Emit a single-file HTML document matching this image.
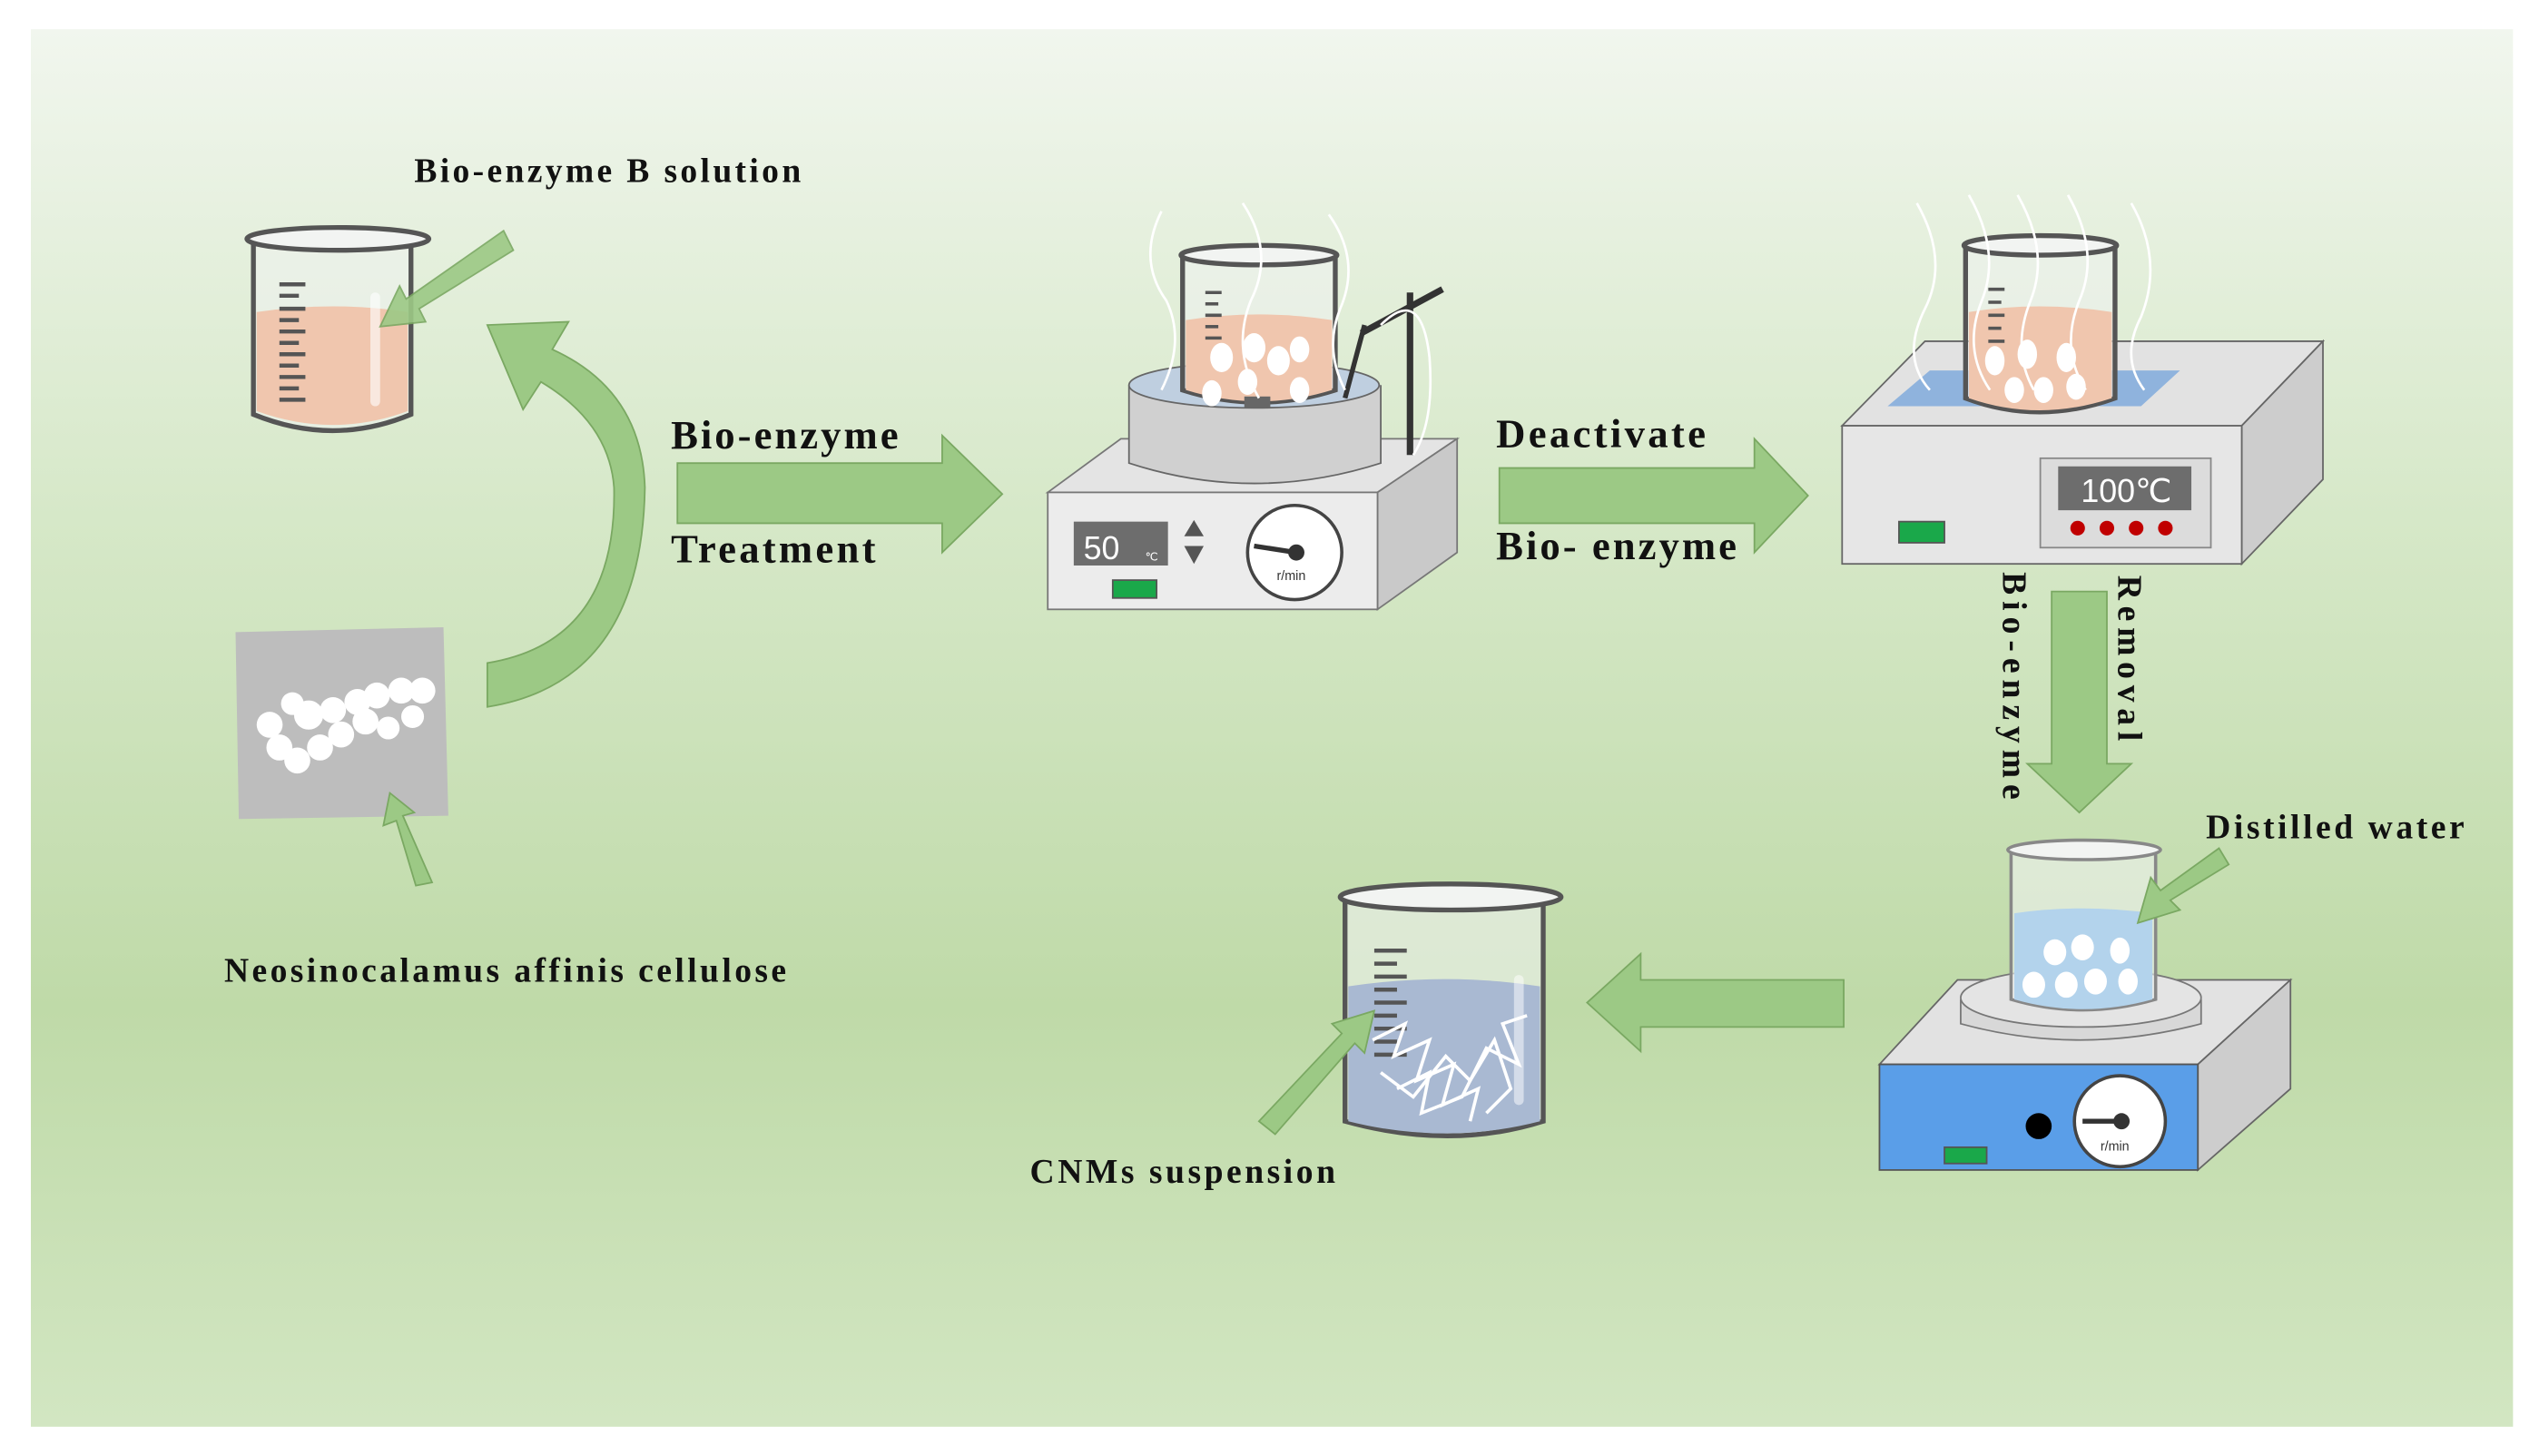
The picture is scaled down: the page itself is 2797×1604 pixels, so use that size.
<!DOCTYPE html>
<html><head><meta charset="utf-8"><style>
html,body{margin:0;padding:0;background:#fff;}
svg{display:block;}
text{font-family:"Liberation Serif",serif;font-weight:bold;fill:#111;}
</style></head><body>
<svg width="2797" height="1604" viewBox="0 0 1563 896" preserveAspectRatio="none" xmlns="http://www.w3.org/2000/svg">
<defs>
<linearGradient id="bg" x1="0" y1="0" x2="0" y2="1">
<stop offset="0" stop-color="#f1f6ee"/>
<stop offset="0.35" stop-color="#d6e8c8"/>
<stop offset="0.7" stop-color="#bfdaa8"/>
<stop offset="1" stop-color="#d2e6c2"/>
</linearGradient>
</defs>
<rect x="19" y="18" width="1528" height="860" fill="url(#bg)"/>

<!-- Beaker 1 -->
<g>
<path d="M156 148 L156 255 Q205 275 253 255 L253 148" fill="#eef1ee" fill-opacity="0.6" stroke="#555" stroke-width="3"/>
<path d="M158 192 Q205 185 251 192 L251 253 Q205 270 158 253Z" fill="#f0c6ae"/>
<ellipse cx="208" cy="147" rx="56" ry="7" fill="#f2f4f2" stroke="#555" stroke-width="3"/>
<g stroke="#555" stroke-width="2.5">
<line x1="172" y1="175" x2="188" y2="175"/><line x1="172" y1="182" x2="184" y2="182"/><line x1="172" y1="190" x2="188" y2="190"/><line x1="172" y1="197" x2="184" y2="197"/><line x1="172" y1="204" x2="188" y2="204"/><line x1="172" y1="211" x2="184" y2="211"/><line x1="172" y1="218" x2="188" y2="218"/><line x1="172" y1="225" x2="184" y2="225"/><line x1="172" y1="232" x2="188" y2="232"/><line x1="172" y1="239" x2="184" y2="239"/><line x1="172" y1="246" x2="188" y2="246"/>
</g>
<rect x="228" y="180" width="6" height="70" rx="3" fill="#fff" opacity="0.6"/>
</g>
<polygon points="310,142 316,154 258,190 262,198 234,201 246,176 250,184" fill="#9cc985" stroke="#7aa862" stroke-width="1" opacity="0.9"/>
<text x="255" y="112" font-size="21" textLength="238" lengthAdjust="spacing">Bio-enzyme B solution</text>

<!-- curved arrow -->
<path d="M300 435 Q395 420 397 300 Q395 240 340 215 L350 198 L300 200 L322 252 L333 235 Q375 260 378 300 Q380 395 300 408 Z" fill="#9cc985" stroke="#7aa862" stroke-width="1"/>

<!-- gray square -->
<polygon points="145,389 273,386 276,502 147,504" fill="#bdbdbd"/>
<g fill="#fff">
<circle cx="166" cy="446" r="8"/><circle cx="180" cy="433" r="7"/><circle cx="190" cy="440" r="9"/><circle cx="205" cy="437" r="8"/><circle cx="220" cy="432" r="8"/><circle cx="232" cy="428" r="8"/><circle cx="247" cy="425" r="8"/><circle cx="260" cy="425" r="8"/><circle cx="172" cy="460" r="8"/><circle cx="183" cy="468" r="8"/><circle cx="197" cy="460" r="8"/><circle cx="210" cy="452" r="8"/><circle cx="225" cy="444" r="8"/><circle cx="239" cy="448" r="7"/><circle cx="254" cy="441" r="7"/>
</g>
<polygon points="266,543 256,545 244,505 236,508 240,488 255,500 248,502" fill="#9cc985" stroke="#7aa862" stroke-width="1"/>
<text x="138" y="604" font-size="21" textLength="346" lengthAdjust="spacing">Neosinocalamus affinis cellulose</text>

<!-- arrow 1 -->
<polygon points="417,285 580,285 580,268 617,304 580,340 580,322 417,322" fill="#9cc985" stroke="#7aa862" stroke-width="1"/>
<text x="413" y="276" font-size="25" textLength="140" lengthAdjust="spacing">Bio-enzyme</text>
<text x="413" y="346" font-size="25" textLength="126" lengthAdjust="spacing">Treatment</text>

<!-- stirrer device 1 -->
<polygon points="645,303 690,270 897,270 848,303" fill="#e4e4e4" stroke="#777"/>
<polygon points="848,303 897,270 897,340 848,375" fill="#c9c9c9" stroke="#777"/>
<rect x="645" y="303" width="203" height="72" fill="#ececec" stroke="#777"/>
<rect x="661" y="321" width="58" height="27" fill="#6d6d6d"/>
<text x="667" y="344" font-size="20" style="font-family:'Liberation Sans',sans-serif;fill:#fff;font-weight:normal">50</text>
<text x="705" y="345" font-size="7" style="font-family:'Liberation Sans',sans-serif;fill:#fff;font-weight:normal">℃</text>
<polygon points="735,320 741,330 729,330" fill="#555"/><polygon points="729,336 741,336 735,347" fill="#555"/>
<rect x="685" y="357" width="27" height="11" fill="#1aa84a" stroke="#555"/>
<circle cx="797" cy="340" r="29" fill="#fff" stroke="#444" stroke-width="2"/>
<line x1="772" y1="336" x2="798" y2="340" stroke="#333" stroke-width="3"/><circle cx="798" cy="340" r="5" fill="#333"/>
<text x="786" y="357" font-size="8" style="font-family:'Liberation Sans',sans-serif;font-weight:normal;fill:#333">r/min</text>
<path d="M695 237 L695 285 Q772 310 850 285 L850 237" fill="#d0d0d0" stroke="#666"/>
<ellipse cx="772" cy="237" rx="77" ry="14" fill="#bfcfe0" stroke="#666"/>
<line x1="868" y1="180" x2="868" y2="280" stroke="#333" stroke-width="4"/>
<line x1="838" y1="205" x2="888" y2="178" stroke="#333" stroke-width="4"/>
<line x1="840" y1="200" x2="828" y2="245" stroke="#333" stroke-width="3"/>
<path d="M728 158 L728 240 Q775 255 822 240 L822 158" fill="#eef1ee" fill-opacity="0.6" stroke="#555" stroke-width="3"/>
<path d="M730 197 Q775 190 820 197 L820 240 Q775 254 730 240Z" fill="#f0c6ae"/>
<ellipse cx="775" cy="157" rx="48" ry="6" fill="#f2f4f2" stroke="#555" stroke-width="3"/>
<g fill="#fff"><ellipse cx="752" cy="220" rx="7" ry="9"/><ellipse cx="772" cy="214" rx="7" ry="9"/><ellipse cx="787" cy="222" rx="7" ry="9"/><ellipse cx="800" cy="215" rx="6" ry="8"/><ellipse cx="746" cy="242" rx="6" ry="8"/><ellipse cx="768" cy="235" rx="6" ry="8"/><ellipse cx="800" cy="240" rx="6" ry="8"/></g>
<rect x="766" y="244" width="16" height="7" fill="#666"/>
<g stroke="#555" stroke-width="2"><line x1="742" y1="180" x2="752" y2="180"/><line x1="742" y1="187" x2="750" y2="187"/><line x1="742" y1="194" x2="752" y2="194"/><line x1="742" y1="201" x2="750" y2="201"/><line x1="742" y1="208" x2="752" y2="208"/></g>
<g fill="none" stroke="#fff" stroke-width="1.5">
<path d="M715 130 Q700 160 718 185 Q730 210 715 240"/><path d="M765 125 Q785 155 770 185 Q758 215 775 245"/><path d="M818 132 Q838 160 825 190 Q815 215 828 240"/>
<path d="M850 200 Q875 175 880 220 Q883 260 870 280"/>
</g>

<!-- arrow 2 -->
<polygon points="923,288 1080,288 1080,270 1113,305 1080,340 1080,322 923,322" fill="#9cc985" stroke="#7aa862" stroke-width="1"/>
<text x="921" y="275" font-size="25" textLength="129" lengthAdjust="spacing">Deactivate</text>
<text x="921" y="344" font-size="25" textLength="148" lengthAdjust="spacing">Bio- enzyme</text>

<!-- heater 2 -->
<polygon points="1134,262 1185,210 1430,210 1380,262" fill="#e2e2e2" stroke="#666"/>
<polygon points="1162,250 1188,228 1342,228 1318,250" fill="#8fb3dd"/>
<polygon points="1380,262 1430,210 1430,295 1380,347" fill="#cdcdcd" stroke="#666"/>
<rect x="1134" y="262" width="246" height="85" fill="#e6e6e6" stroke="#666"/>
<rect x="1256" y="282" width="105" height="55" fill="#dcdcdc" stroke="#888"/>
<rect x="1267" y="287" width="82" height="27" fill="#6d6d6d"/>
<text x="1281" y="309" font-size="20" style="font-family:'Liberation Sans',sans-serif;fill:#fff;font-weight:normal">100℃</text>
<g fill="#c00000"><circle cx="1279" cy="325" r="4.5"/><circle cx="1297" cy="325" r="4.5"/><circle cx="1315" cy="325" r="4.5"/><circle cx="1333" cy="325" r="4.5"/></g>
<rect x="1169" y="321" width="28" height="13" fill="#1aa84a" stroke="#555"/>
<path d="M1210 152 L1210 245 Q1255 262 1302 245 L1302 152" fill="#eef1ee" fill-opacity="0.6" stroke="#555" stroke-width="3"/>
<path d="M1212 192 Q1255 185 1300 192 L1300 245 Q1255 260 1212 245Z" fill="#f0c6ae"/>
<ellipse cx="1256" cy="151" rx="47" ry="6" fill="#f2f4f2" stroke="#555" stroke-width="3"/>
<g stroke="#555" stroke-width="2"><line x1="1224" y1="178" x2="1234" y2="178"/><line x1="1224" y1="186" x2="1232" y2="186"/><line x1="1224" y1="194" x2="1234" y2="194"/><line x1="1224" y1="202" x2="1232" y2="202"/><line x1="1224" y1="210" x2="1234" y2="210"/></g>
<g fill="#fff"><ellipse cx="1228" cy="222" rx="6" ry="9"/><ellipse cx="1248" cy="218" rx="6" ry="9"/><ellipse cx="1272" cy="220" rx="6" ry="9"/><ellipse cx="1240" cy="240" rx="6" ry="8"/><ellipse cx="1258" cy="240" rx="6" ry="8"/><ellipse cx="1278" cy="238" rx="6" ry="8"/></g>
<g fill="none" stroke="#fff" stroke-width="1.5">
<path d="M1180 125 Q1200 160 1185 190 Q1170 220 1188 240"/><path d="M1212 120 Q1232 155 1220 185 Q1208 215 1225 240"/><path d="M1242 120 Q1262 155 1250 185 Q1238 215 1252 240"/><path d="M1273 120 Q1293 155 1280 185 Q1268 215 1284 240"/><path d="M1312 125 Q1332 160 1318 195 Q1305 220 1320 240"/>
</g>

<!-- down arrow -->
<polygon points="1263,364 1297,364 1297,470 1312,470 1280,500 1248,470 1263,470" fill="#9cc985" stroke="#7aa862" stroke-width="1"/>
<text transform="translate(1233,352) rotate(90)" font-size="21" textLength="140" lengthAdjust="spacing">Bio-enzyme</text>
<text transform="translate(1304,354) rotate(90)" font-size="21" textLength="102" lengthAdjust="spacing">Removal</text>
<text x="1358" y="516" font-size="21" textLength="159" lengthAdjust="spacing">Distilled water</text>

<!-- stirrer 3 -->
<polygon points="1157,655 1205,603 1410,603 1353,655" fill="#e2e2e2" stroke="#666"/>
<polygon points="1353,655 1410,603 1410,670 1353,720" fill="#cdcdcd" stroke="#666"/>
<rect x="1157" y="655" width="196" height="65" fill="#5a9ee8" stroke="#555"/>
<circle cx="1255" cy="693" r="8" fill="#000"/>
<rect x="1197" y="706" width="26" height="10" fill="#1aa84a" stroke="#555"/>
<circle cx="1305" cy="690" r="28" fill="#fff" stroke="#444" stroke-width="2"/>
<line x1="1282" y1="690" x2="1306" y2="690" stroke="#333" stroke-width="3"/><circle cx="1306" cy="690" r="5" fill="#333"/>
<text x="1293" y="708" font-size="8" style="font-family:'Liberation Sans',sans-serif;font-weight:normal;fill:#333">r/min</text>
<path d="M1207 615 L1207 630 Q1280 650 1355 630 L1355 615" fill="#d8d8d8" stroke="#777"/>
<ellipse cx="1281" cy="614" rx="74" ry="18" fill="#e4e4e4" stroke="#777"/>
<path d="M1238 524 L1238 615 Q1282 628 1327 615 L1327 524" fill="#eef1ee" fill-opacity="0.6" stroke="#888" stroke-width="2"/>
<path d="M1240 562 Q1282 556 1325 562 L1325 615 Q1282 627 1240 615Z" fill="#b3d3ec"/>
<ellipse cx="1283" cy="523" rx="47" ry="6" fill="#f2f4f2" stroke="#888" stroke-width="2"/>
<g fill="#fff"><ellipse cx="1265" cy="586" rx="7" ry="8"/><ellipse cx="1282" cy="583" rx="7" ry="8"/><ellipse cx="1305" cy="585" rx="6" ry="8"/><ellipse cx="1252" cy="606" rx="7" ry="8"/><ellipse cx="1272" cy="606" rx="7" ry="8"/><ellipse cx="1290" cy="604" rx="7" ry="8"/><ellipse cx="1310" cy="604" rx="6" ry="8"/></g>
<polygon points="1372,532 1366,522 1330,548 1324,540 1316,568 1342,560 1336,554" fill="#9cc985" stroke="#7aa862" stroke-width="1"/>

<!-- left arrow -->
<polygon points="1135,603 1010,603 1010,587 977,617 1010,647 1010,632 1135,632" fill="#9cc985" stroke="#7aa862" stroke-width="1"/>

<!-- final beaker -->
<path d="M828 553 L828 690 Q893 708 950 690 L950 553" fill="#eef1ee" fill-opacity="0.6" stroke="#555" stroke-width="3"/>
<path d="M830 607 Q890 598 948 607 L948 690 Q890 705 830 690Z" fill="#a9b9d2"/>
<ellipse cx="893" cy="552" rx="68" ry="8" fill="#f2f4f2" stroke="#555" stroke-width="3"/>
<g stroke="#555" stroke-width="2.5"><line x1="846" y1="585" x2="866" y2="585"/><line x1="846" y1="593" x2="860" y2="593"/><line x1="846" y1="601" x2="866" y2="601"/><line x1="846" y1="609" x2="860" y2="609"/><line x1="846" y1="617" x2="866" y2="617"/><line x1="846" y1="625" x2="860" y2="625"/><line x1="846" y1="633" x2="866" y2="633"/><line x1="846" y1="641" x2="860" y2="641"/><line x1="846" y1="649" x2="866" y2="649"/></g>
<g fill="none" stroke="#fff" stroke-width="2">
<path d="M845 640 L865 630 L858 650 L880 640 L872 665 L895 655 L888 680 L910 670 L905 690"/>
<path d="M860 670 L880 660 L875 685 L900 675 L915 645 L935 655 L925 630 L940 625"/>
<path d="M850 660 L870 675 L890 650 L905 665 L920 640 L930 670 L915 685"/>
</g>
<rect x="932" y="600" width="6" height="80" rx="3" fill="#fff" opacity="0.5"/>
<polygon points="785,698 775,690 826,636 820,630 846,622 840,648 834,642" fill="#9cc985" stroke="#7aa862" stroke-width="1"/>
<text x="634" y="728" font-size="21" textLength="188" lengthAdjust="spacing">CNMs suspension</text>
</svg>
</body></html>
